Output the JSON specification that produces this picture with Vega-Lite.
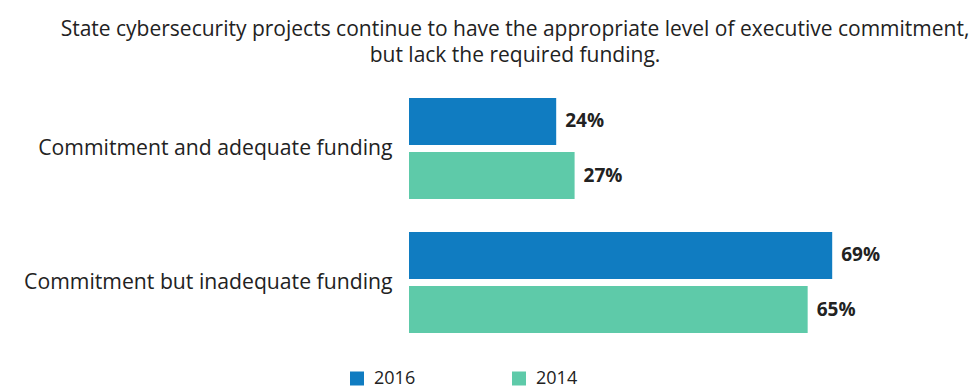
{
  "$schema": "https://vega.github.io/schema/vega-lite/v6.json",
  "width": 460,
  "height": 268,
  "autosize": {"type": "none"},
  "padding": {"left": 409, "top": 81.5, "right": 105, "bottom": 38.5},
  "background": "white",
  "title": {
    "text": ["State cybersecurity projects continue to have the appropriate level of executive commitment,", "but lack the required funding."],
    "anchor": "middle",
    "dx": -124,
    "offset": 16,
    "font": "Open Sans",
    "fontSize": 21,
    "fontWeight": "normal",
    "lineHeight": 26,
    "color": "#222222"
  },
  "data": {
    "values": [
      {"category": "Commitment and adequate funding", "year": "2016", "share": 0.24},
      {"category": "Commitment and adequate funding", "year": "2014", "share": 0.27},
      {"category": "Commitment but inadequate funding", "year": "2016", "share": 0.69},
      {"category": "Commitment but inadequate funding", "year": "2014", "share": 0.65}
    ]
  },
  "encoding": {
    "y": {
      "field": "category",
      "type": "nominal",
      "sort": null,
      "title": null,
      "scale": {"paddingInner": 0.246, "paddingOuter": 0.123},
      "axis": {
        "domain": false,
        "ticks": false,
        "labelFont": "Open Sans",
        "labelFontSize": 21.2,
        "labelColor": "#222222",
        "labelPadding": 17,
        "labelLimit": 400
      }
    },
    "yOffset": {
      "field": "year",
      "type": "nominal",
      "sort": ["2016", "2014"],
      "scale": {"paddingInner": 0.13, "paddingOuter": 0}
    },
    "x": {
      "field": "share",
      "type": "quantitative",
      "scale": {"domain": [0, 0.75], "nice": false},
      "axis": null
    }
  },
  "layer": [
    {
      "mark": {"type": "bar"},
      "encoding": {
        "color": {
          "field": "year",
          "type": "nominal",
          "sort": ["2016", "2014"],
          "scale": {"domain": ["2016", "2014"], "range": ["#107cc1", "#5ecaa9"]},
          "legend": {
            "title": null,
            "orient": "none",
            "direction": "horizontal",
            "legendX": -61,
            "legendY": 288,
            "symbolType": "square",
            "symbolSize": 196,
            "symbolStrokeWidth": 0,
            "labelFont": "Open Sans",
            "labelFontSize": 18,
            "labelColor": "#222222",
            "labelOffset": 8,
            "columnPadding": 94
          }
        }
      }
    },
    {
      "mark": {
        "type": "text",
        "align": "left",
        "baseline": "middle",
        "dx": 9,
        "font": "Open Sans",
        "fontSize": 19,
        "fontWeight": "bold",
        "color": "#222222"
      },
      "encoding": {
        "text": {"field": "share", "type": "quantitative", "format": ".0%"},
        "detail": {"field": "year"}
      }
    }
  ],
  "config": {"view": {"stroke": null}}
}
